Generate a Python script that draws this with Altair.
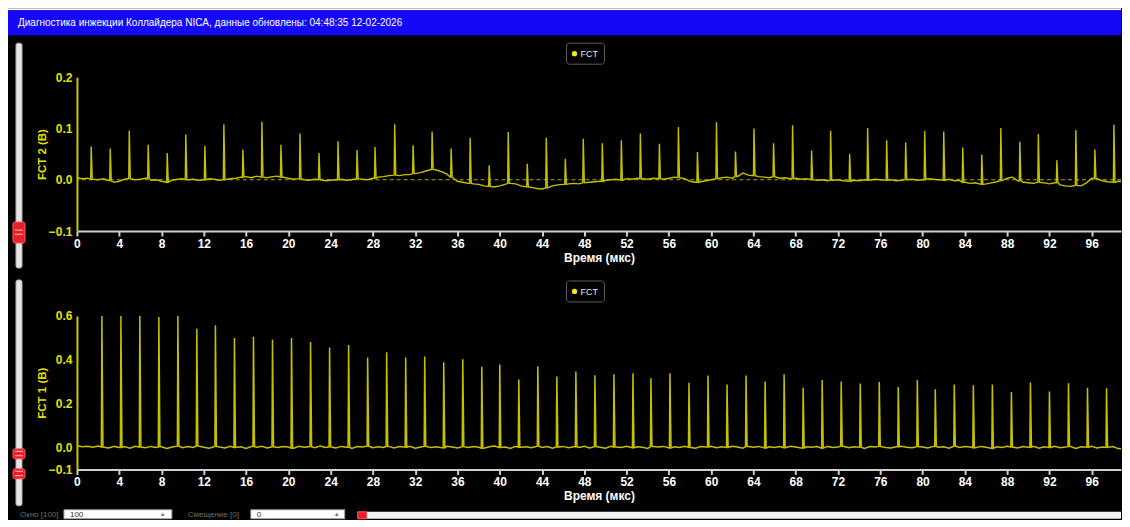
import altair as alt
import pandas as pd

# ---------------- data ----------------
TITLE = "Диагностика инжекции Коллайдера NICA, данные обновлены: 04:48:35 12-02-2026"
X_TITLE = "Время (мкс)"
LEGEND_LABEL = "FCT"
X_TICKS = list(range(0, 100, 4))
X_DOMAIN = [0, 98.77]
STEP_US = 0.5

FCT2_TITLE = "FCT 2 (В)"
FCT2_DOMAIN = [-0.1, 0.2]
FCT2_TICKS = [-0.1, 0.0, 0.1, 0.2]
# baseline of FCT 2, mV, one value every 0.5 us from 0 to 99.5
FCT2_BASE_MV = [
    4, 2, 3, 1, 0, 2, -2, -5, -3, 1, 2, 0, 1, 3, -1, 0, -3, -5, -1, 1,
    2, 0, 1, -1, 0, 2, 1, -1, 0, 2, 3, 5, 6, 4, 7, 5, 4, 6, 7, 5,
    3, 1, 2, 0, -1, 1, 0, -2, -1, 0, 1, -1, 0, 2, 1, 0, 3, 5, 6, 8,
    9, 8, 10, 10, 12, 14, 17, 20, 19, 16, 11, 5, -3, -5, -7, -8, -9, -12, -13, -14,
    -12, -9, -7, -8, -12, -14, -15, -17, -18, -16, -12, -10, -9, -8, -7, -8, -6, -5, -4, -3,
    -1, 0, 1, -1, 2, 1, 3, 2, 1, 3, 2, 1, 3, 5, 4, 2, -3, -5, -4, -2,
    0, 2, 4, 5, 3, 6, 13, 9, 8, 6, 5, 4, 6, 3, 4, 2, 3, 1, 2, 0,
    -1, 0, -2, -1, 0, -2, -3, -1, -2, 0, -1, 1, 0, -1, 0, -2, -1, 0, 1, -1,
    0, 2, 1, 0, -1, 1, -2, -1, -5, -7, -6, -9, -8, -6, -4, -2, 3, 5, -2, -5,
    -6, -7, -5, -6, -8, -6, -10, -12, -13, -11, -12, -6, 3, 2, -2, -4, -5, -3, -4, -5,
]
FCT2_SPIKE_T = [
    1.35, 3.15, 4.95, 6.74, 8.54, 10.3, 12.1, 13.9, 15.7, 17.5, 19.3, 21.1, 22.9, 24.7, 26.5, 28.2,
    30.06, 31.8, 33.6, 35.4, 37.2, 39.0, 40.8, 42.6, 44.4, 46.2, 47.9, 49.7, 51.5, 53.3, 55.1, 56.9,
    58.7, 60.5, 62.3, 64.05, 65.9, 67.7, 69.5, 71.3, 73.1, 74.8, 76.6, 78.4, 80.2, 82.0, 83.8, 85.6,
    87.4, 89.2, 90.95, 92.7, 94.5, 96.3, 98.1,
]
FCT2_SPIKE_V = [
    0.065, 0.061, 0.096, 0.068, 0.052, 0.088, 0.066, 0.108, 0.059, 0.113, 0.068, 0.090, 0.052, 0.075, 0.058, 0.064,
    0.108, 0.067, 0.094, 0.061, 0.082, 0.028, 0.093, 0.031, 0.082, 0.041, 0.080, 0.071, 0.077, 0.090, 0.070, 0.103,
    0.054, 0.112, 0.055, 0.100, 0.071, 0.106, 0.057, 0.095, 0.050, 0.101, 0.077, 0.073, 0.095, 0.094, 0.063, 0.049,
    0.101, 0.074, 0.089, 0.038, 0.097, 0.059, 0.107,
]

FCT1_TITLE = "FCT 1 (В)"
FCT1_DOMAIN = [-0.1, 0.6]
FCT1_TICKS = [-0.1, 0.0, 0.2, 0.4, 0.6]
FCT1_BASE_MV = [
    8, 3, 6, 1, 7, 2, -2, 5, 0, 4, -3, 6, 2, -1, 5, 0, 3, -4, 2, 6,
    -1, 4, 0, 7, 1, -3, 5, 2, -2, 6, 0, 3, -4, 4, 1, 6, -2, 3, 0, 5,
    2, -3, 6, 1, 4, -1, 7, 0, 3, -2, 5, 1, -4, 4, 2, 6, -1, 3, 0, 5,
    -2, 4, 1, 6, -3, 2, 5, 0, 3, -1, 6, 2, -2, 4, 0, 5, 1, -3, 3, 7,
    0, 2, -4, 5, 1, 3, -1, 6, 0, 4, -3, 2, 5, -1, 3, 0, 6, -2, 4, 1,
    -3, 5, 2, 0, 6, -1, 3, 1, -4, 4, 2, 5, -2, 3, 0, 6, 1, -3, 4, 2,
    5, -1, 3, 0, 6, 2, -3, 4, 1, 5, -2, 3, 0, 4, -1, 6, 2, -2, 3, 1,
    4, -3, 5, 0, 2, 6, -1, 3, 1, -4, 4, 2, 5, 0, -2, 3, 6, 1, -1, 4,
    2, -2, 5, 1, 3, -3, 6, 0, 4, 2, -1, 5, 1, -4, 3, 0, 6, 2, -2, 4,
    1, 5, -3, 3, 0, 6, -1, 2, 4, -4, 3, 1, 5, -2, 2, 0, 4, -5, -6, 2,
]
FCT1_SPIKE_T = [
    2.36, 4.16, 5.95, 7.75, 9.55, 11.34, 13.1, 14.9, 16.7, 18.5, 20.3, 22.1, 23.9, 25.7, 27.5,
    29.3, 31.1, 32.9, 34.7, 36.5, 38.3, 40.0, 41.8, 43.6, 45.4, 47.2, 49.0, 50.8, 52.6, 54.3,
    56.1, 57.9, 59.7, 61.5, 63.3, 65.1, 66.9, 68.7, 70.5, 72.3, 74.1, 75.9, 77.7, 79.5, 81.2,
    83.0, 84.8, 86.6, 88.4, 90.2, 92.0, 93.8, 95.6, 97.4, 99.2,
]
FCT1_SPIKE_V = [
    0.600, 0.600, 0.600, 0.595, 0.600, 0.542, 0.557, 0.499, 0.505, 0.492, 0.499, 0.481, 0.456, 0.467, 0.411,
    0.434, 0.411, 0.415, 0.389, 0.403, 0.368, 0.379, 0.310, 0.371, 0.324, 0.347, 0.330, 0.334, 0.339, 0.316,
    0.339, 0.295, 0.328, 0.287, 0.328, 0.301, 0.334, 0.273, 0.308, 0.301, 0.292, 0.299, 0.276, 0.308, 0.266,
    0.287, 0.284, 0.287, 0.253, 0.296, 0.255, 0.293, 0.273, 0.270, 0.284,
]

# ---------------- styling ----------------
FONT = "Liberation Sans"
TRACE = "#c4bf00"
YEL = "#e2e000"
AXIS_GREY = "#cfcfcf"
W = 1045
ONE = pd.DataFrame({"k": [0]})


def build_trace(base_mv, spike_t, spike_v):
    rows = []
    for i, mv in enumerate(base_mv):
        t = i * STEP_US
        if any(abs(t - s) < 0.15 for s in spike_t):
            continue
        rows.append((t, mv / 1000.0))
    for s, v in zip(spike_t, spike_v):
        foot = base_mv[min(len(base_mv) - 1, int(round(s / STEP_US)))] / 1000.0
        rows += [(s - 0.05, foot), (s, v), (s + 0.1, foot)]
    return pd.DataFrame(rows, columns=["t", "v"]).sort_values("t").reset_index(drop=True)


def box(x, x2, y, y2, **style):
    return alt.Chart(ONE).mark_rect(**style).encode(
        x=alt.value(x), x2=alt.value(x2), y=alt.value(y), y2=alt.value(y2)
    )


def label(x, y, text, **style):
    st = dict(font=FONT, align="left", baseline="middle")
    st.update(style)
    return alt.Chart(ONE).mark_text(text=text, **st).encode(x=alt.value(x), y=alt.value(y))


def slider(y_top, y_bot, handles):
    layers = [box(-61, -55, y_top, y_bot, fill="#e4e4e4", stroke="#b0b0b0", strokeWidth=1, cornerRadius=2)]
    for h0, h1 in handles:
        layers.append(box(-64, -52, h0, h1, fill="#e5202a", stroke="#ff5a5a", strokeWidth=1, cornerRadius=2))
        mid = (h0 + h1) / 2
        layers.append(box(-62, -54, mid - 3, mid - 1.8, fill="#ff9c9c"))
        layers.append(box(-62, -54, mid + 1.2, mid + 2.4, fill="#ff9c9c"))
    return layers


def legend(y0, y1):
    yc = (y0 + y1) / 2
    return [
        box(490, 528, y0, y1, fill="#000000", stroke="#5c5c5c", strokeWidth=1, cornerRadius=3),
        alt.Chart(ONE).mark_circle(size=28, color="#f2ee00", opacity=1).encode(
            x=alt.value(498), y=alt.value(yc)),
        label(504, yc + 0.5, LEGEND_LABEL, fontSize=9, color="#e8e8e8"),
    ]


def x_enc():
    return alt.X(
        "t:Q",
        scale=alt.Scale(domain=X_DOMAIN, nice=False, zero=False),
        axis=alt.Axis(
            values=X_TICKS, title=X_TITLE, grid=False, labelFlush=False, labelOverlap=False, zindex=2,
            domainColor=AXIS_GREY, domainWidth=2, tickColor=AXIS_GREY, tickWidth=2, tickSize=5,
            labelColor="#ffffff", labelFont=FONT, labelFontSize=12, labelFontWeight="bold", labelPadding=2,
            titleColor="#ffffff", titleFont=FONT, titleFontSize=12, titleFontWeight="bold", titlePadding=3,
        ),
    )


def y_enc(domain, ticks, title):
    return alt.Y(
        "v:Q",
        scale=alt.Scale(domain=domain, nice=False, zero=False),
        axis=alt.Axis(
            values=ticks, format=".1f", title=title, grid=False, ticks=False, zindex=2,
            labelFlush=False, labelOverlap=False,
            domainColor="#c8c800", domainWidth=2,
            labelColor=YEL, labelFont=FONT, labelFontSize=12, labelFontWeight="bold", labelPadding=5,
            titleColor=YEL, titleFont=FONT, titleFontSize=11.5, titleFontWeight="bold", titlePadding=1,
        ),
    )


# ---------------- top panel (FCT 2) ----------------
df2 = build_trace(FCT2_BASE_MV, FCT2_SPIKE_T, FCT2_SPIKE_V)
trace2 = alt.Chart(df2).mark_line(color=TRACE, strokeWidth=1.4, interpolate="linear", clip=True).encode(
    x=x_enc(), y=y_enc(FCT2_DOMAIN, FCT2_TICKS, FCT2_TITLE)
)
zero2 = alt.Chart(pd.DataFrame({"v": [0.0]})).mark_rule(
    color="#c8c400", strokeWidth=1, strokeDash=[4, 3], opacity=0.85
).encode(y="v:Q")

top_layers = [
    box(-69, W, -69, 198, fill="#000000"),
    box(-69, W, -69, -67, fill="#ffffff"),
    box(-69, W, -67, -42, fill="#1408f6"),
    label(-59, -54.5, TITLE, fontSize=10, color="#ffffff"),
] + slider(-34, 191, [(145, 166)]) + legend(-34, -13) + [zero2, trace2]

top = alt.layer(*top_layers).properties(width=W, height=154)

# ---------------- bottom panel (FCT 1) ----------------
df1 = build_trace(FCT1_BASE_MV, FCT1_SPIKE_T, FCT1_SPIKE_V)
trace1 = alt.Chart(df1).mark_line(color=TRACE, strokeWidth=1.5, interpolate="linear", clip=True).encode(
    x=x_enc(), y=y_enc(FCT1_DOMAIN, FCT1_TICKS, FCT1_TITLE)
)

controls = [
    label(-57, 199, "Окно [100]", fontSize=8, color="#6e6e6e"),
    box(-13, 95, 194, 203, fill="#ffffff", stroke="#9a9a9a", strokeWidth=1),
    label(-7, 199.5, "100", fontSize=8, color="#333333"),
    label(83, 198, "▲", fontSize=6, color="#777777"),
    label(111, 199, "Смещение [0]", fontSize=8, color="#6e6e6e"),
    box(174, 268, 194, 203, fill="#ffffff", stroke="#9a9a9a", strokeWidth=1),
    label(180, 199.5, "0", fontSize=8, color="#333333"),
    label(257, 198, "▲", fontSize=6, color="#777777"),
    box(290, W, 196, 203, fill="#f2f2f2"),
    box(281, 290, 196, 203, fill="#e5202a", stroke="#ff5a5a", strokeWidth=1),
]

bottom_layers = [
    box(-69, W, -41, 203, fill="#000000"),
] + slider(-36, 190, [(133, 143), (153, 163)]) + legend(-35, -14) + controls + [trace1]

bottom = alt.layer(*bottom_layers).properties(width=W, height=153.6)

chart = (
    alt.vconcat(top, bottom, spacing=0)
    .properties(padding=0, background="#000000")
    .configure_view(stroke=None)
)

chart.save("out.html", embed_options={"renderer": "svg", "actions": False})
